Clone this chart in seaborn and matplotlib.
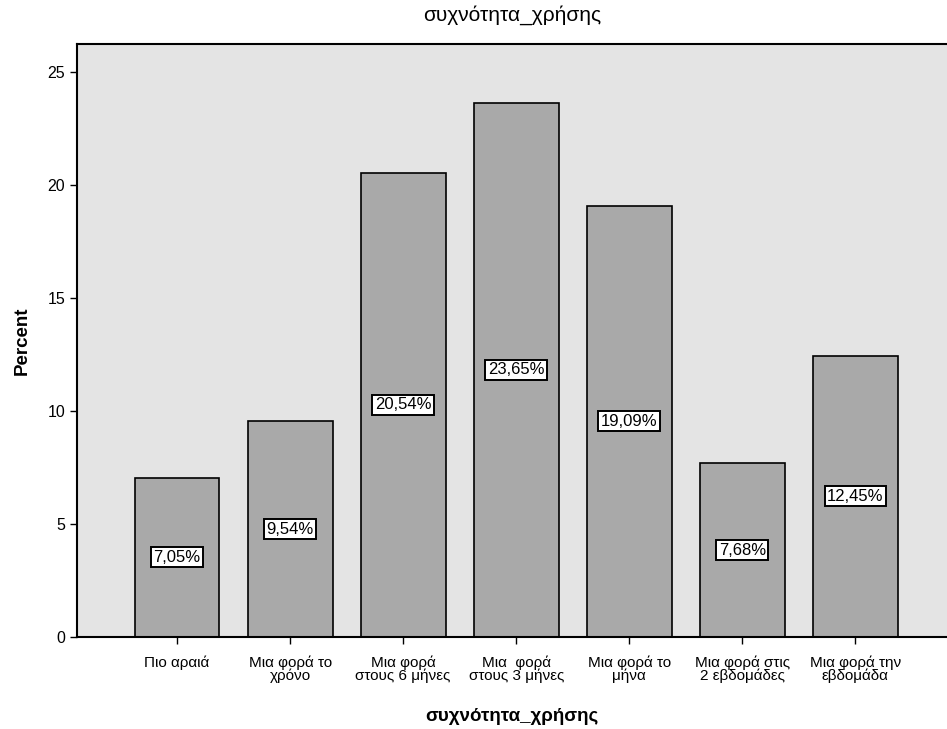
import pandas as pd
import matplotlib
matplotlib.use("Agg")
import matplotlib.pyplot as plt
import seaborn as sns

# values
categories = [
    "Πιο αραιά",
    "Μια φορά το\nχρόνο",
    "Μια φορά\nστους 6 μήνες",
    "Μια  φορά\nστους 3 μήνες",
    "Μια φορά το\nμήνα",
    "Μια φορά στις\n2 εβδομάδες",
    "Μια φορά την\nεβδομάδα",
]
percent = [7.05, 9.54, 20.54, 23.65, 19.09, 7.68, 12.45]
bar_labels = ["7,05%", "9,54%", "20,54%", "23,65%", "19,09%", "7,68%", "12,45%"]

sns.set_style("ticks")
plt.rcParams["font.family"] = ["Liberation Sans", "DejaVu Sans"]
plt.rcParams["text.color"] = "black"
plt.rcParams["axes.labelcolor"] = "black"
plt.rcParams["xtick.color"] = "black"
plt.rcParams["ytick.color"] = "black"

df = pd.DataFrame({"cat": categories, "pct": percent})

fig = plt.figure(figsize=(9.47, 7.29), dpi=100)
ax = fig.add_axes([0.0813, 0.1262, 0.9187, 0.8134])
ax.set_facecolor("#e4e4e4")

sns.barplot(data=df, x="cat", y="pct", color="#a9a9a9", edgecolor="black",
            linewidth=1.2, width=0.75, saturation=1, ax=ax)

# value labels in white boxes at half height
for i, (v, lab) in enumerate(zip(percent, bar_labels)):
    ax.text(i, v / 2, lab, ha="center", va="center", fontsize=12,
            bbox=dict(boxstyle="square,pad=0.15", facecolor="white",
                      edgecolor="black", linewidth=1.4))

ax.set_xlim(-0.885, 6.81)
ax.set_ylim(0, 26.24)
ax.set_yticks([0, 5, 10, 15, 20, 25])
ax.tick_params(axis="y", labelsize=11.5, length=5, width=1)
ax.tick_params(axis="x", labelsize=11, length=5, width=1, pad=8)
for t in ax.get_xticklabels():
    t.set_linespacing(0.95)

for side in ["left", "bottom", "top"]:
    ax.spines[side].set_visible(True)
    ax.spines[side].set_linewidth(1.5)
    ax.spines[side].set_color("black")
ax.spines["right"].set_visible(False)

ax.set_xlabel("συχνότητα_χρήσης", fontsize=13.5, fontweight="bold", labelpad=18)
ax.set_ylabel("Percent", fontsize=13.5, fontweight="bold", labelpad=12)
ax.set_title("συχνότητα_χρήσης", fontsize=15, pad=17)

fig.savefig("out.png", dpi=100)
plt.close(fig)
